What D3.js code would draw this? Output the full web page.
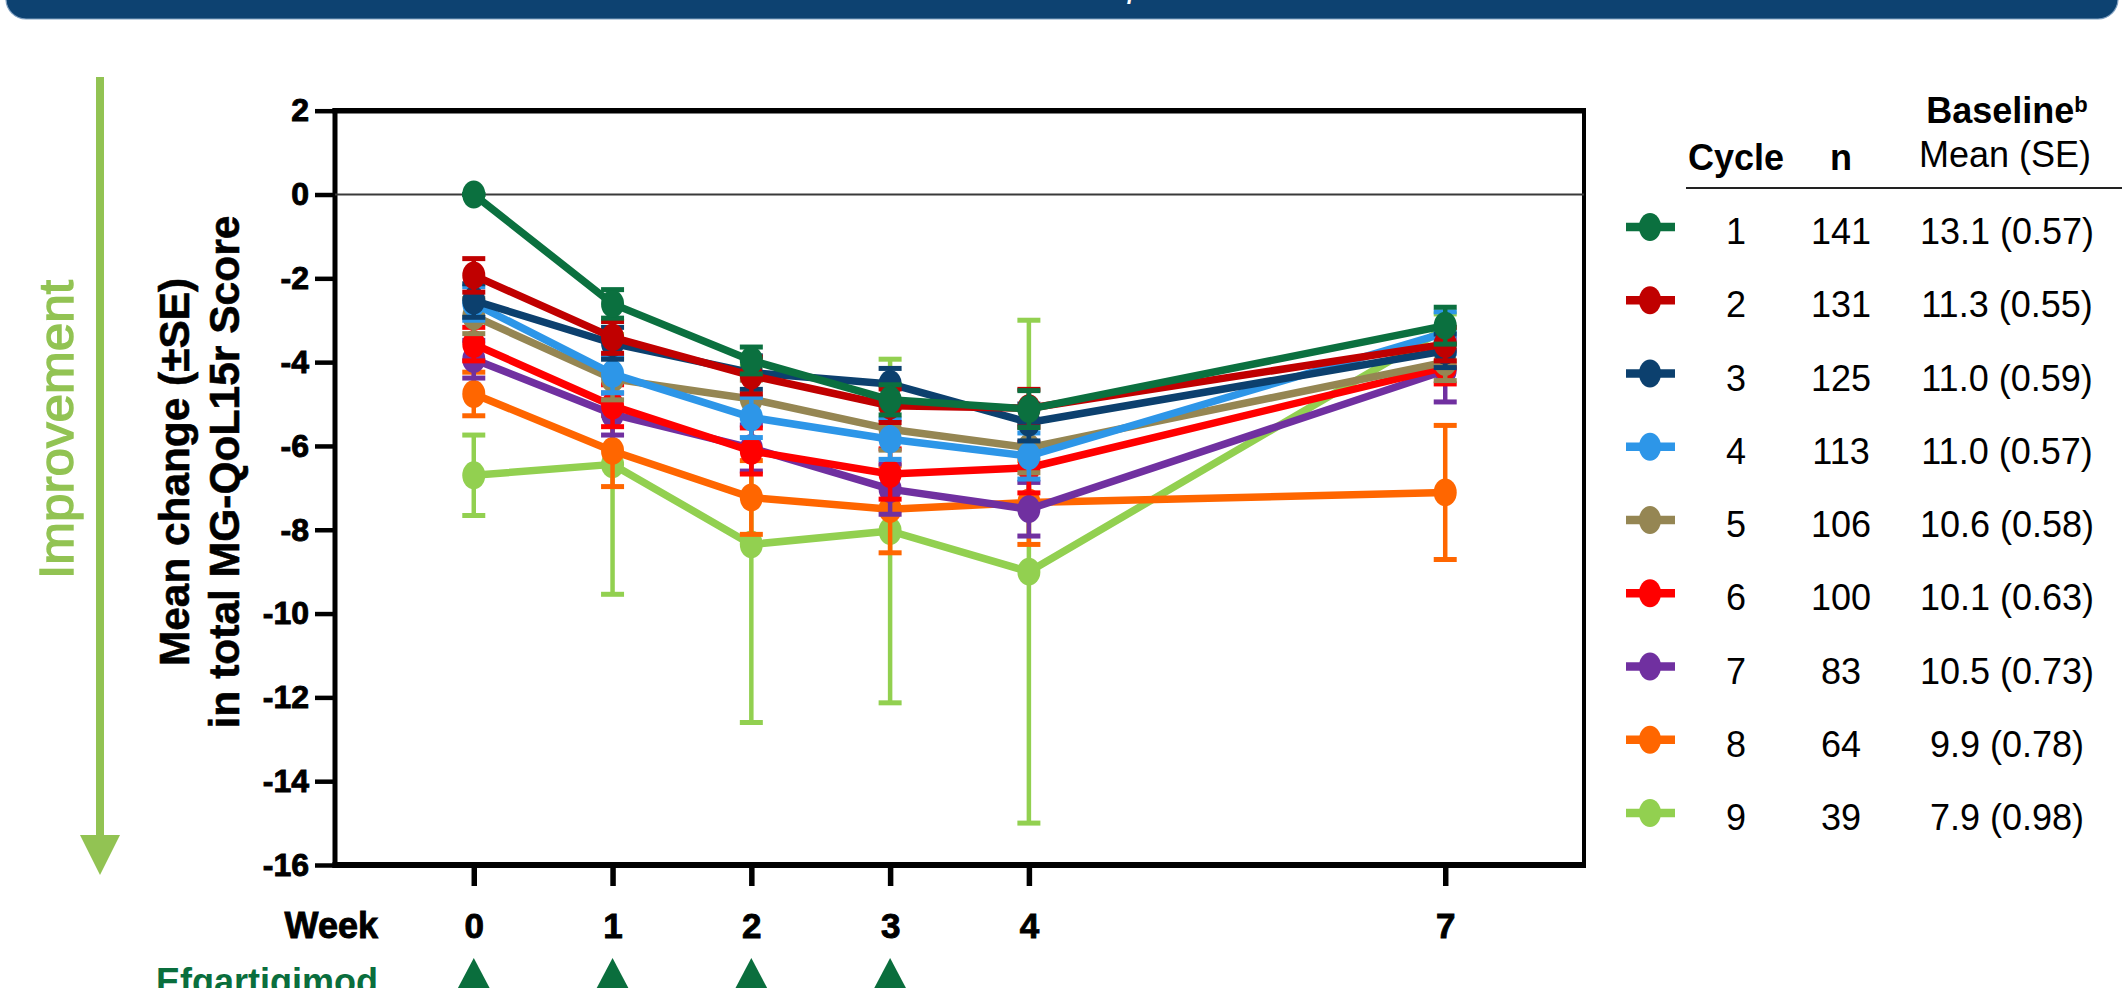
<!DOCTYPE html>
<html>
<head>
<meta charset="utf-8">
<script src="https://cdn.jsdelivr.net/npm/d3@7"></script>
<style>
  body { margin: 0; background: #fff; }
  svg { display: block; }
  text { font-family: "Liberation Sans", Arial, sans-serif; }
</style>
</head>
<body>
<script>

// Data
let weeks = [0, 1, 2, 3, 4, 7];
let dosingWeeks = [0, 1, 2, 3];
let yTicks = [2, 0, -2, -4, -6, -8, -10, -12, -14, -16];

let cycles = ["1", "2", "3", "4", "5", "6", "7", "8", "9"];
let nPatients = [141, 131, 125, 113, 106, 100, 83, 64, 39];
let baselineMeanSE = ["13.1 (0.57)", "11.3 (0.55)", "11.0 (0.59)", "11.0 (0.57)", "10.6 (0.58)",
                      "10.1 (0.63)", "10.5 (0.73)", "9.9 (0.78)", "7.9 (0.98)"];
let cycleColors = ["#0b703f", "#c00000", "#0c406e", "#2d96e8", "#958653",
                   "#ff0000", "#7030a0", "#ff6600", "#92d050"];

// mean change per cycle, one value per week
let meanChange = [
    [0, -2.61, -3.96, -4.90, -5.12, -3.13],
    [-1.93, -3.41, -4.32, -5.04, -5.10, -3.57],
    [-2.53, -3.55, -4.25, -4.52, -5.44, -3.73],
    [-2.60, -4.28, -5.32, -5.84, -6.24, -3.30],
    [-2.90, -4.40, -4.88, -5.60, -6.04, -4.00],
    [-3.57, -5.04, -6.12, -6.67, -6.52, -4.12],
    [-3.93, -5.24, -6.05, -7.03, -7.51, -4.20],
    [-4.76, -6.12, -7.23, -7.51, -7.35, -7.11],
    [-6.70, -6.44, -8.35, -8.03, -9.00, -3.20]
];
// standard errors, same layout
let seChange = [
    [0, 0.34, 0.32, 0.36, 0.44, 0.44],
    [0.40, 0.38, 0.44, 0.40, 0.45, 0.40],
    [0.40, 0.38, 0.40, 0.37, 0.44, 0.40],
    [0.40, 0.45, 0.48, 0.48, 0.55, 0.50],
    [0.42, 0.50, 0.45, 0.50, 0.60, 0.44],
    [0.40, 0.50, 0.55, 0.60, 0.60, 0.40],
    [0.45, 0.50, 0.55, 0.60, 0.64, 0.75],
    [0.52, 0.85, 0.88, 1.04, 1.00, 1.60],
    [0.96, 3.10, 4.25, 4.10, 6.00, 0.35]
];

// canvas
let w = 2122;
let h = 988;
let margin = {top: 110.7, right: 538, bottom: 123, left: 335};

let svg = d3.select("body").append("svg")
    .attr("width", w)
    .attr("height", h)
    .attr("viewBox", [0, 0, w, h]);

let x = d3.scaleLinear().domain([-1, 8]).range([margin.left, w - margin.right]);
let y = d3.scaleLinear().domain([-16, 2]).range([h - margin.bottom, margin.top]);

let green = "#92c353";
let darkGreen = "#0a6e3d";

// banner at the very top (mostly cut off)
svg.append("rect")
    .attr("x", 6).attr("y", -40)
    .attr("width", w - 10).attr("height", 59)
    .attr("rx", 20)
    .style("fill", "#0d4271")
    .style("stroke", "#7f9fc0")
    .style("stroke-width", 1.2);

svg.append("text")
    .attr("x", 1128).attr("y", -3)
    .style("font-size", "34px")
    .style("font-style", "italic")
    .style("fill", "white")
    .text("p");

// Improvement arrow
svg.append("line")
    .attr("x1", 100).attr("x2", 100)
    .attr("y1", 77).attr("y2", 837)
    .style("stroke", green)
    .style("stroke-width", 8);

svg.append("path")
    .attr("d", "M80,835 L120,835 L100,875 Z")
    .style("fill", green);

svg.append("text")
    .attr("transform", "translate(72.5,429.5) rotate(-90)")
    .attr("text-anchor", "middle")
    .attr("textLength", 299)
    .attr("lengthAdjust", "spacingAndGlyphs")
    .style("font-size", "49px")
    .style("fill", green)
    .style("stroke", green)
    .style("stroke-width", 1.4)
    .text("Improvement");

// y axis title, two lines
let yTitle = [
    {txt: "Mean change (\u00b1SE)", x: 189, len: 388},
    {txt: "in total MG-QoL15r Score", x: 239, len: 513}
];
svg.selectAll(".ytitle")
    .data(yTitle)
    .join("text")
    .attr("class", "ytitle")
    .attr("transform", d => "translate(" + d.x + ",472) rotate(-90)")
    .attr("text-anchor", "middle")
    .attr("textLength", d => d.len)
    .attr("lengthAdjust", "spacingAndGlyphs")
    .style("font-size", "42.5px")
    .style("font-weight", "bold")
    .style("stroke", "black")
    .style("stroke-width", 0.6)
    .text(d => d.txt);

// axes
let yAxis = svg.append("g")
    .attr("transform", "translate(" + margin.left + ",0)")
    .call(d3.axisLeft(y).tickValues(yTicks).tickSize(20).tickPadding(6).tickSizeOuter(0)
        .tickFormat(d3.format("d")));
yAxis.select(".domain").remove();
yAxis.selectAll("line").style("stroke", "black").style("stroke-width", 4.5);
yAxis.selectAll("text")
    .style("font-size", "32px")
    .style("font-weight", "bold")
    .style("fill", "black")
    .style("stroke", "black")
    .style("stroke-width", 0.9)
    .text(d => d < 0 ? "-" + Math.abs(d) : d);

let xAxis = svg.append("g")
    .attr("transform", "translate(0," + (h - margin.bottom) + ")")
    .call(d3.axisBottom(x).tickValues(weeks).tickSize(21).tickPadding(27).tickSizeOuter(0));
xAxis.select(".domain").remove();
xAxis.selectAll("line").style("stroke", "black").style("stroke-width", 5.5);
xAxis.selectAll("text")
    .style("font-size", "35px")
    .style("font-weight", "bold")
    .style("fill", "black")
    .style("stroke", "black")
    .style("stroke-width", 0.9);

// frame around plot
let x0 = x(-1), x1 = x(8), yTop = y(2), yBot = y(-16);
let frame = [
    {x1: x0, y1: yTop - 2.5, x2: x0, y2: yBot + 3, sw: 5},
    {x1: x0 - 2.5, y1: yBot, x2: x1 + 2, y2: yBot, sw: 6},
    {x1: x0 - 2.5, y1: yTop, x2: x1 + 2, y2: yTop, sw: 5.5},
    {x1: x1, y1: yTop, x2: x1, y2: yBot, sw: 4}
];
svg.selectAll(".frame")
    .data(frame)
    .join("line")
    .attr("class", "frame")
    .attr("x1", d => d.x1).attr("y1", d => d.y1)
    .attr("x2", d => d.x2).attr("y2", d => d.y2)
    .style("stroke", "black")
    .style("stroke-width", d => d.sw);

// zero reference line
svg.append("line")
    .attr("x1", x0).attr("x2", x1)
    .attr("y1", y(0)).attr("y2", y(0))
    .style("stroke", "#3a3a3a")
    .style("stroke-width", 2);

// "Week" label and dosing row
svg.append("text")
    .attr("x", 378).attr("y", 938)
    .attr("text-anchor", "end")
    .style("font-size", "36px")
    .style("font-weight", "bold")
    .style("stroke", "black")
    .style("stroke-width", 0.9)
    .text("Week");

svg.append("text")
    .attr("x", 378).attr("y", 994)
    .attr("text-anchor", "end")
    .style("font-size", "36px")
    .style("font-weight", "bold")
    .style("fill", darkGreen)
    .text("Efgartigimod");

svg.selectAll(".dose")
    .data(dosingWeeks)
    .join("path")
    .attr("class", "dose")
    .attr("d", d => "M" + x(d) + ",958 L" + (x(d) - 19) + ",994 L" + (x(d) + 19) + ",994 Z")
    .style("fill", darkGreen);

// series, last cycle first so cycle 1 sits on top
let line = d3.line().x(d => x(d.week)).y(d => y(d.mean));
let capHalf = 11.5;

for (let c = cycles.length - 1; c >= 0; c--) {
    let pts = weeks.map((wk, i) => ({week: wk, mean: meanChange[c][i], se: seChange[c][i]}));
    let col = cycleColors[c];
    let g = svg.append("g").attr("class", "cycle-" + cycles[c]);

    // error bars
    g.selectAll(".bar")
        .data(pts)
        .join("line")
        .attr("class", "bar")
        .attr("x1", d => x(d.week)).attr("x2", d => x(d.week))
        .attr("y1", d => y(d.mean + d.se)).attr("y2", d => y(d.mean - d.se))
        .style("stroke", col)
        .style("stroke-width", 4.5);

    let caps = pts.flatMap(d => [d.mean + d.se, d.mean - d.se].map(v => ({week: d.week, v: v})));
    g.selectAll(".cap")
        .data(caps)
        .join("line")
        .attr("class", "cap")
        .attr("x1", d => x(d.week) - capHalf).attr("x2", d => x(d.week) + capHalf)
        .attr("y1", d => y(d.v)).attr("y2", d => y(d.v))
        .style("stroke", col)
        .style("stroke-width", 5);

    g.append("path")
        .datum(pts)
        .attr("d", line)
        .style("fill", "none")
        .style("stroke", col)
        .style("stroke-width", 7.5)
        .style("stroke-linejoin", "round");

    g.selectAll(".dot")
        .data(pts)
        .join("ellipse")
        .attr("class", "dot")
        .attr("cx", d => x(d.week))
        .attr("cy", d => y(d.mean))
        .attr("rx", 11.5)
        .attr("ry", 14)
        .style("fill", col);
}

// Legend table on the right
let colX = {swatch: 1650, cycle: 1736, n: 1841, base: 2007};
let rowY = i => 227 + i * 73.25;

let header = svg.append("g");
header.append("text")
    .attr("x", colX.cycle).attr("y", 170)
    .attr("text-anchor", "middle")
    .style("font-size", "36px").style("font-weight", "bold")
    .text("Cycle");
header.append("text")
    .attr("x", colX.n).attr("y", 170)
    .attr("text-anchor", "middle")
    .style("font-size", "36px").style("font-weight", "bold")
    .text("n");
let bl = header.append("text")
    .attr("x", colX.base).attr("y", 123)
    .attr("text-anchor", "middle")
    .style("font-size", "36px").style("font-weight", "bold");
bl.append("tspan").text("Baseline");
bl.append("tspan").attr("dy", -11).style("font-size", "22px").text("b");
header.append("text")
    .attr("x", colX.base - 2).attr("y", 167)
    .attr("text-anchor", "middle")
    .style("font-size", "36px")
    .text("Mean (SE)");
header.append("line")
    .attr("x1", 1686).attr("x2", w)
    .attr("y1", 188).attr("y2", 188)
    .style("stroke", "#222")
    .style("stroke-width", 2);

let rows = svg.selectAll(".legend-row")
    .data(cycles)
    .join("g")
    .attr("class", "legend-row")
    .attr("transform", (d, i) => "translate(0," + rowY(i) + ")");

rows.append("line")
    .attr("x1", colX.swatch - 24).attr("x2", colX.swatch + 25)
    .attr("y1", 0).attr("y2", 0)
    .style("stroke", (d, i) => cycleColors[i])
    .style("stroke-width", 8.5);

rows.append("ellipse")
    .attr("cx", colX.swatch).attr("cy", 0)
    .attr("rx", 11).attr("ry", 14)
    .style("fill", (d, i) => cycleColors[i]);

rows.append("text")
    .attr("x", colX.cycle).attr("y", 17)
    .attr("text-anchor", "middle")
    .style("font-size", "36px")
    .text(d => d);

rows.append("text")
    .attr("x", colX.n).attr("y", 17)
    .attr("text-anchor", "middle")
    .style("font-size", "36px")
    .text((d, i) => nPatients[i]);

rows.append("text")
    .attr("x", colX.base).attr("y", 17)
    .attr("text-anchor", "middle")
    .style("font-size", "36px")
    .text((d, i) => baselineMeanSE[i]);

</script>
</body>
</html>
